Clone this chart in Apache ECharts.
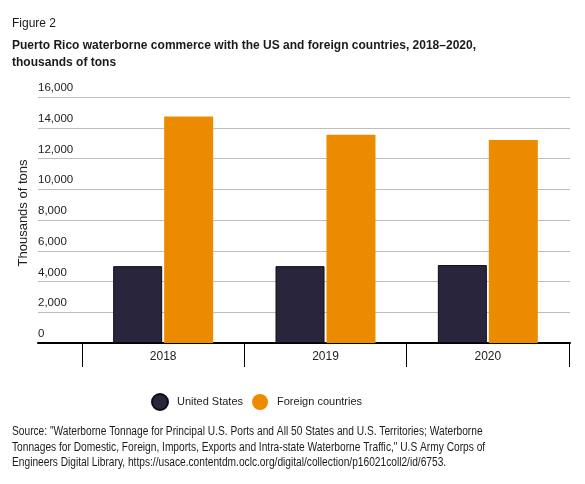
<!DOCTYPE html>
<html>
<head>
<meta charset="utf-8">
<script src="https://cdn.jsdelivr.net/npm/echarts@6/dist/echarts.min.js"></script>
<style>
  html, body { margin: 0; padding: 0; background: #fff; }
  #chart { width: 585px; height: 484px; }
</style>
</head>
<body>
<div id="chart"></div>
<script>
// data (thousands of tons)
const years = ['2018', '2019', '2020'];
const unitedStates = [5000, 5000, 5070];
const foreignCountries = [14730, 13550, 13200];
const yTicks = { min: 0, max: 16000, step: 2000 };

const plain = "'Liberation Sans', Arial, sans-serif";

const titleLines = [
  'Puerto Rico waterborne commerce with the US and foreign countries, 2018\u20132020,',
  'thousands of tons'
];
const sourceLines = [
  'Source: "Waterborne Tonnage for Principal U.S. Ports and All 50 States and U.S. Territories; Waterborne',
  'Tonnages for Domestic, Foreign, Imports, Exports and Intra-state Waterborne Traffic," U.S Army Corps of',
  'Engineers Digital Library, https://usace.contentdm.oclc.org/digital/collection/p16021coll2/id/6753.'
];

// the original uses a condensed face; squeeze horizontally to match its width
const textLine = (str, y, font, sx) => ({
  type: 'text', x: 12, y: y, scaleX: sx, silent: true,
  style: { text: str, font: font, fill: '#1a1a1a', textVerticalAlign: 'middle' }
});

const chart = echarts.init(document.getElementById('chart'));

const option = {
  animation: false,
  graphic: [
    textLine('Figure 2', 24, "12px 'Liberation Sans', Arial, sans-serif", 1),
    ...titleLines.map((t, i) => textLine(t, 45 + i * 17, "bold 13.5px 'Liberation Sans', Arial, sans-serif", 0.89)),
    ...sourceLines.map((t, i) => textLine(t, 432 + i * 15.5, "12.5px 'Liberation Sans', Arial, sans-serif", 0.815)),
    {
      type: 'text', x: 23, y: 213, rotation: Math.PI / 2, silent: true,
      style: {
        text: 'Thousands of tons', font: "13px 'Liberation Sans', Arial, sans-serif",
        fill: '#222', textAlign: 'center', textVerticalAlign: 'middle'
      }
    }
  ],
  legend: {
    left: 146, top: 388,
    icon: 'circle', itemWidth: 16, itemHeight: 16, itemGap: 9,
    textStyle: { fontFamily: plain, fontSize: 11, color: '#222', padding: [0, 0, 0, 4] },
    data: ['United States', 'Foreign countries']
  },
  grid: [
    { left: 38, right: 15, top: 97, bottom: 141 },
    { left: 82, right: 16, top: 97, bottom: 141 }
  ],
  xAxis: [
    {
      gridIndex: 0, type: 'value', min: 0, max: 1,
      axisLine: { show: true, onZero: false, lineStyle: { color: '#000', width: 2 } },
      axisTick: { show: false }, axisLabel: { show: false }, splitLine: { show: false }
    },
    {
      gridIndex: 1, type: 'category', data: years,
      axisLine: { show: false },
      axisTick: { show: true, length: 24, lineStyle: { color: '#000', width: 1 } },
      axisLabel: { margin: 8, fontFamily: plain, fontSize: 12, color: '#222' }
    }
  ],
  yAxis: [
    {
      gridIndex: 0, type: 'value', min: yTicks.min, max: yTicks.max, interval: yTicks.step,
      axisLine: { show: false }, axisTick: { show: false },
      axisLabel: {
        inside: true, margin: 0, verticalAlign: 'bottom', padding: [0, 0, 3, 0],
        fontFamily: plain, fontSize: 11.5, color: '#222',
        formatter: v => v.toLocaleString('en-US')
      },
      splitLine: { lineStyle: { color: '#bdbdbd', width: 1 } }
    },
    {
      gridIndex: 1, type: 'value', min: yTicks.min, max: yTicks.max, interval: yTicks.step,
      show: false
    }
  ],
  series: [
    {
      name: 'United States', type: 'bar', xAxisIndex: 1, yAxisIndex: 1,
      data: unitedStates, barWidth: 49, barGap: '4%',
      itemStyle: { color: '#29253d', borderColor: '#0d0b16', borderWidth: 1 }
    },
    {
      name: 'Foreign countries', type: 'bar', xAxisIndex: 1, yAxisIndex: 1,
      data: foreignCountries, barWidth: 49, barGap: '4%',
      itemStyle: { color: '#ed8b00' }
    }
  ]
};

chart.setOption(option);
</script>
</body>
</html>
